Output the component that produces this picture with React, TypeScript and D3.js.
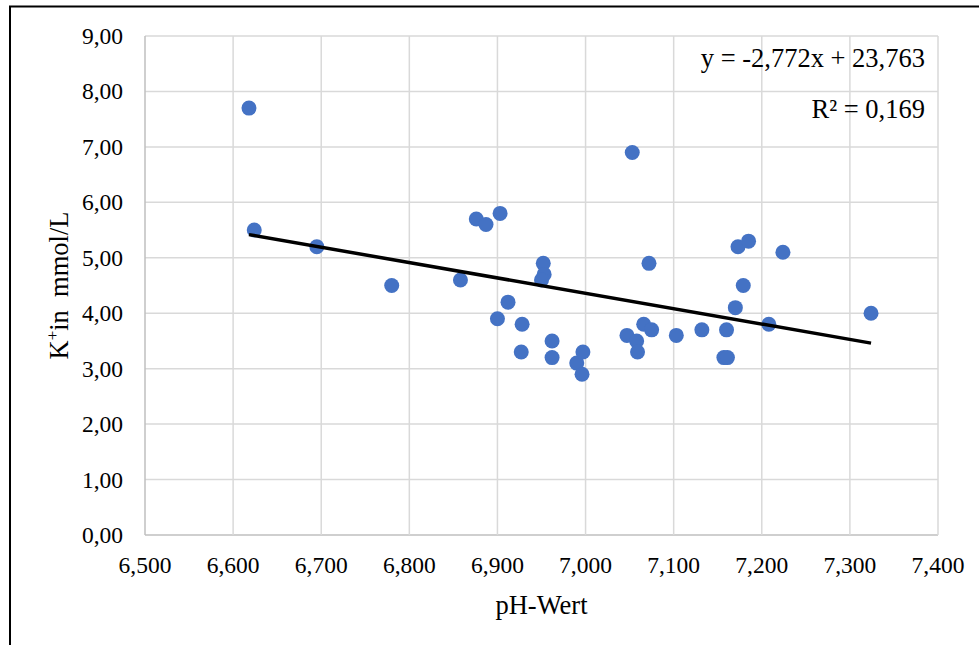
import React from 'react';
import * as d3 from 'd3';

// pH value of each sample
const phValues = [
  6.618, 6.624, 6.695, 6.780, 6.858, 6.876, 6.887, 6.903, 6.900, 6.912,
  6.928, 6.927, 6.952, 6.953, 6.950, 6.962, 6.962, 6.990, 6.997, 6.996,
  7.053, 7.047, 7.058, 7.059, 7.066, 7.075, 7.072, 7.103, 7.132, 7.160,
  7.157, 7.161, 7.170, 7.179, 7.173, 7.185, 7.208, 7.224, 7.324,
];
// K+ in mmol/L, same order
const kValues = [
  7.7, 5.5, 5.2, 4.5, 4.6, 5.7, 5.6, 5.8, 3.9, 4.2,
  3.8, 3.3, 4.9, 4.7, 4.6, 3.5, 3.2, 3.1, 3.3, 2.9,
  6.9, 3.6, 3.5, 3.3, 3.8, 3.7, 4.9, 3.6, 3.7, 3.7,
  3.2, 3.2, 4.1, 4.5, 5.2, 5.3, 3.8, 5.1, 4.0,
];

const xTicks = [6.5, 6.6, 6.7, 6.8, 6.9, 7.0, 7.1, 7.2, 7.3, 7.4];
const yTicks = [0, 1, 2, 3, 4, 5, 6, 7, 8, 9];

// linear trendline as printed on the chart
const slope = -2.772;
const intercept = 23.763;
const eqLabel = 'y = -2,772x + 23,763';
const r2Label = 'R² = 0,169';

const W = 979;
const H = 645;
const left = 145, right = 938, top = 36, bottom = 535;
const font = '"Liberation Serif", "Times New Roman", serif';

const fmt = (d: number, digits: number) => d.toFixed(digits).replace('.', ',');

export default function App() {
  const x = d3.scaleLinear().domain([6.5, 7.4]).range([left, right]);
  const y = d3.scaleLinear().domain([0, 9]).range([bottom, top]);

  const points = phValues.map((p, i) => ({ p, k: kValues[i] }));
  const [x0, x1] = d3.extent(phValues) as [number, number];
  const trend = d3.line<number>()
    .x(d => x(d))
    .y(d => y(slope * d + intercept));

  return (
    <svg width={W} height={H} style={{ position: 'absolute', left: 0, top: 0, background: '#fff' }}
      fontFamily={font}>
      <rect x={10} y={6.5} width={W + 10} height={H + 10} fill="#fff" stroke="#000" strokeWidth={2} />

      {/* grid */}
      {yTicks.map(t => (
        <line key={'gy' + t} x1={left} x2={right} y1={y(t)} y2={y(t)}
          stroke={t === 0 ? '#bfbfbf' : '#d9d9d9'} strokeWidth={1.5} />
      ))}
      {xTicks.map(t => (
        <line key={'gx' + t} x1={x(t)} x2={x(t)} y1={top} y2={bottom}
          stroke={t === 6.5 ? '#bfbfbf' : '#d9d9d9'} strokeWidth={1.5} />
      ))}

      {/* tick labels */}
      {yTicks.map(t => (
        <text key={'ty' + t} x={123} y={y(t)} dy="0.34em" textAnchor="end" fontSize={23.5} fill="#000">
          {fmt(t, 2)}
        </text>
      ))}
      {xTicks.map(t => (
        <text key={'tx' + t} x={x(t)} y={573} textAnchor="middle" fontSize={23.5} fill="#000">
          {fmt(t, 3)}
        </text>
      ))}

      {/* axis titles */}
      <text x={(left + right) / 2} y={614} textAnchor="middle" fontSize={26.5}>pH-Wert</text>
      <text transform={`translate(68,${(top + bottom) / 2}) rotate(-90)`} textAnchor="middle"
        fontSize={26.5} style={{ whiteSpace: 'pre' }}>
        K<tspan fontSize={17} dy={-10}>+</tspan><tspan dy={10}>in  mmol/L</tspan>
      </text>

      {/* points */}
      {points.map((d, i) => (
        <circle key={i} cx={x(d.p)} cy={y(d.k)} r={7.5} fill="#4472C4" />
      ))}

      {/* trendline */}
      <path d={trend([x0, x1]) ?? ''} fill="none" stroke="#000" strokeWidth={3.5} />

      <text x={925} y={67} textAnchor="end" fontSize={26.5}>{eqLabel}</text>
      <text x={925} y={118} textAnchor="end" fontSize={26.5}>{r2Label}</text>
    </svg>
  );
}
